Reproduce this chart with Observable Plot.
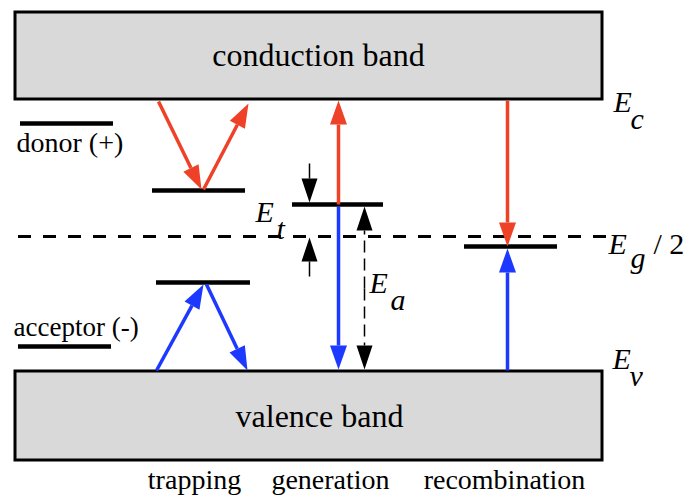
<!DOCTYPE html>
<html>
<head>
<meta charset="utf-8">
<script src="https://cdn.jsdelivr.net/npm/d3@7"></script>
<script src="https://cdn.jsdelivr.net/npm/@observablehq/plot@0.6"></script>
<style>
  html, body { margin: 0; padding: 0; background: #fff; }
  #chart { width: 687px; height: 500px; }
  #chart svg text { font-family: "Liberation Serif", "Times New Roman", serif !important; }
</style>
</head>
<body>
<div id="chart"></div>
<script>
// Energy bands (diagram coordinates: x position, y = energy depth from top)
const bands = [
  {name: "conduction band", x1: 15, x2: 602, y1: 12, y2: 99, lx: 318, ly: 55},
  {name: "valence band", x1: 15, x2: 602, y1: 371, y2: 460, lx: 319, ly: 416}
];

// Discrete energy levels
const levels = [
  {name: "donor", x1: 20, x2: 113, y: 123},
  {name: "acceptor", x1: 18, x2: 111, y: 346},
  {name: "donor trap", x1: 152, x2: 245, y: 190},
  {name: "acceptor trap", x1: 156, x2: 250, y: 282},
  {name: "generation level", x1: 292, x2: 383, y: 204},
  {name: "recombination level", x1: 464, x2: 557, y: 246}
];

// Mid-gap level Eg/2
const midgap = [{name: "Eg/2", x1: 18, x2: 606, y: 236}];

// Carrier transitions (electron = red, hole = blue)
const transitions = [
  {id: "t1", carrier: "electron", x1: 158, y1: 101, x2: 201, y2: 189},
  {id: "t2", carrier: "electron", x1: 203, y1: 189, x2: 248, y2: 103},
  {id: "t3", carrier: "hole", x1: 156, y1: 370, x2: 203, y2: 284},
  {id: "t4", carrier: "hole", x1: 206, y1: 284, x2: 247, y2: 370},
  {id: "g1", carrier: "electron", x1: 338, y1: 204, x2: 338, y2: 100},
  {id: "g2", carrier: "hole", x1: 338, y1: 206, x2: 338, y2: 369},
  {id: "r1", carrier: "electron", x1: 507, y1: 100, x2: 507, y2: 246},
  {id: "r2", carrier: "hole", x1: 507, y1: 370, x2: 507, y2: 248}
];

// Energy-difference markers (Et, Ea)
const markers = [
  {id: "et1", kind: "solid", x1: 309, y1: 163, x2: 309, y2: 202},
  {id: "et2", kind: "solid", x1: 309, y1: 276, x2: 309, y2: 237},
  {id: "ea1", kind: "dashed", x1: 364, y1: 288, x2: 364, y2: 206},
  {id: "ea2", kind: "dashed", x1: 364, y1: 288, x2: 364, y2: 369}
];

// Text labels
const plainLabels = [
  {text: "donor (+)", x: 16, y: 143, size: 28, anchor: "start"},
  {text: "acceptor (-)", x: 13, y: 327, size: 27, anchor: "start"},
  {text: "/ 2", x: 653, y: 244, size: 30, anchor: "start"},
  {text: "trapping", x: 194, y: 480, size: 28, anchor: "middle"},
  {text: "generation", x: 330, y: 480, size: 28, anchor: "middle"},
  {text: "recombination", x: 504, y: 480, size: 28, anchor: "middle"}
];
const energySymbols = [
  {text: "E", x: 613, y: 102}, {text: "c", x: 630, y: 119},
  {text: "E", x: 608, y: 244}, {text: "g", x: 630, y: 258},
  {text: "E", x: 612, y: 359}, {text: "v", x: 629, y: 376},
  {text: "E", x: 255, y: 212}, {text: "t", x: 276, y: 229},
  {text: "E", x: 369, y: 283}, {text: "a", x: 390, y: 300}
];

const colors = {electron: "#ee4127", hole: "#1d38ff", solid: "#000", dashed: "#000"};

// Build shafts (ending at arrowhead base) and filled arrowheads from the endpoints
function arrowParts(list, key, L, W) {
  const shafts = [], heads = [];
  for (const a of list) {
    const dx = a.x2 - a.x1, dy = a.y2 - a.y1, len = Math.hypot(dx, dy);
    const ux = dx / len, uy = dy / len, nx = -uy, ny = ux;
    const bx = a.x2 - ux * L, by = a.y2 - uy * L;
    shafts.push({...a, bx, by});
    heads.push({id: a.id, k: a[key], x: a.x2, y: a.y2});
    heads.push({id: a.id, k: a[key], x: bx + nx * W / 2, y: by + ny * W / 2});
    heads.push({id: a.id, k: a[key], x: bx - nx * W / 2, y: by - ny * W / 2});
  }
  return {shafts, heads};
}
const tr = arrowParts(transitions, "carrier", 24, 17);
const mk = arrowParts(markers, "kind", 24, 16);

const font = "Liberation Serif";

const chart = Plot.plot({
  width: 687,
  height: 500,
  margin: 0,
  x: {domain: [0, 687], range: [0, 687], axis: null},
  y: {domain: [0, 500], range: [0, 500], axis: null},
  style: {background: "#fff"},
  marks: [
    Plot.rect(bands, {x1: "x1", x2: "x2", y1: "y1", y2: "y2", fill: "#d9d9d9", stroke: "#000", strokeWidth: 3}),
    Plot.text(bands, {x: "lx", y: "ly", text: "name", fontSize: 32, fontFamily: font, fill: "#000"}),
    Plot.ruleY(midgap, {y: "y", x1: "x1", x2: "x2", stroke: "#000", strokeWidth: 3, strokeDasharray: "13,12"}),
    Plot.ruleY(levels, {y: "y", x1: "x1", x2: "x2", stroke: "#000", strokeWidth: 4.5}),
    Plot.link(tr.shafts, {x1: "x1", y1: "y1", x2: "bx", y2: "by", stroke: d => colors[d.carrier], strokeWidth: 3.5}),
    Plot.line(tr.heads, {x: "x", y: "y", z: "id", fill: d => colors[d.k], stroke: "none"}),
    Plot.link(mk.shafts.filter(d => d.kind === "solid"), {x1: "x1", y1: "y1", x2: "bx", y2: "by", stroke: "#000", strokeWidth: 1.5}),
    Plot.link(mk.shafts.filter(d => d.kind === "dashed"), {x1: "x1", y1: "y1", x2: "bx", y2: "by", stroke: "#000", strokeWidth: 1.5, strokeDasharray: "12,6"}),
    Plot.line(mk.heads, {x: "x", y: "y", z: "id", fill: "#000", stroke: "none"}),
    Plot.text(plainLabels.filter(d => d.anchor === "start"), {x: "x", y: "y", text: "text", textAnchor: "start",
      fontSize: d => d.size, fontFamily: font, fill: "#000"}),
    Plot.text(plainLabels.filter(d => d.anchor === "middle"), {x: "x", y: "y", text: "text",
      fontSize: d => d.size, fontFamily: font, fill: "#000"}),
    Plot.text(energySymbols, {x: "x", y: "y", text: "text", textAnchor: "start", fontSize: 30, fontFamily: font, fontStyle: "italic", fill: "#000"})
  ]
});
document.getElementById("chart").appendChild(chart);
</script>
</body>
</html>
